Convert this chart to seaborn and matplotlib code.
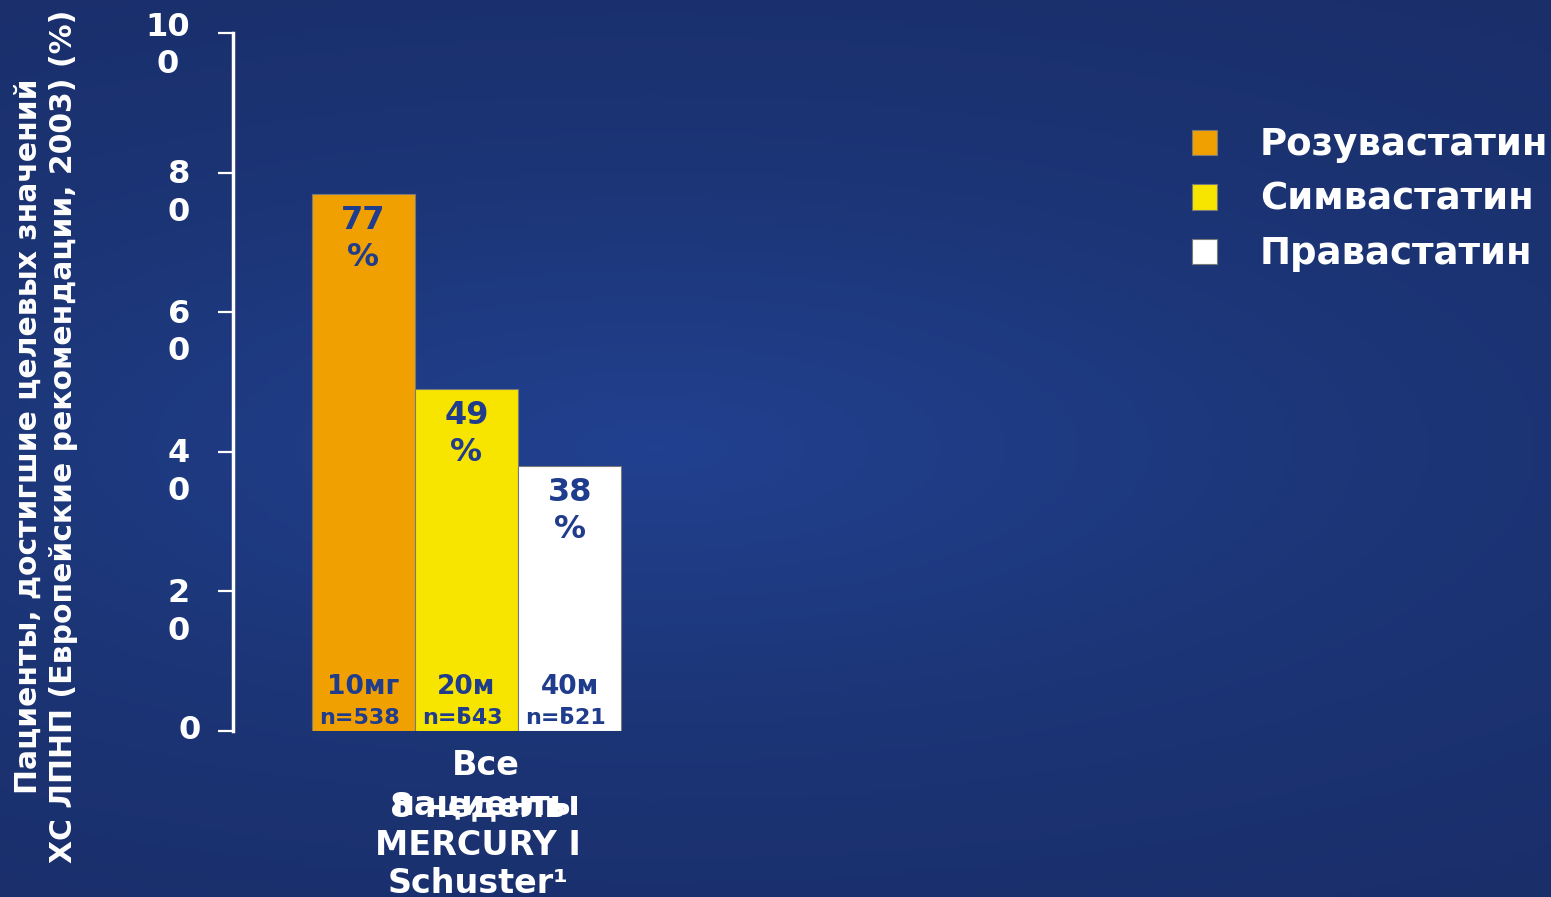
import matplotlib
matplotlib.use("Agg")
import matplotlib.pyplot as plt
from matplotlib.colors import LinearSegmentedColormap
from matplotlib.transforms import ScaledTranslation
import seaborn as sns
import pandas as pd
import numpy as np

# data
group = "Все\nпациенты"
drugs = ["Розувастатин", "Симвастатин", "Правастатин"]
values = [77, 49, 38]
value_labels = ["77\n%", "49\n%", "38\n%"]
dose_labels = ["10мг", "20м", "40м"]
n_labels = ["n=538", "n=543", "n=521"]
n_overlay = ["", "г", "г"]
ytick_values = [0, 20, 40, 60, 80, 100]
ytick_labels = ["0", "2\n0", "4\n0", "6\n0", "8\n0", "10\n0"]
ylabel = "Пациенты, достигшие целевых значений\nХС ЛПНП (Европейские рекомендации, 2003) (%)"
xnote = "8 недель\nMERCURY I\nSchuster¹"

colors = ["#f0a000", "#f7e500", "#ffffff"]
text_blue = "#203c8c"

df = pd.DataFrame({"group": [group] * 3, "drug": drugs, "value": values})

sns.set_theme(style="white")
plt.rcParams["font.family"] = ["DejaVu Sans"]
plt.rcParams["font.weight"] = "bold"

fig = plt.figure(figsize=(15.51, 8.97), dpi=100)

# gradient background
bg = fig.add_axes([0, 0, 1, 1], zorder=-10)
yy, xx = np.mgrid[0:1:200j, 0:1:350j]
dist = np.sqrt(((xx - 0.42) / 1.3) ** 2 + ((yy - 0.5) / 0.8) ** 2)
cmap = LinearSegmentedColormap.from_list("bgblue", ["#21408f", "#1c3576", "#1a2e6a"])
bg.imshow(dist, cmap=cmap, aspect="auto", extent=[0, 1, 0, 1])
bg.axis("off")

ax = fig.add_axes([0.1502, 0.1851, 0.3011, 0.7781])
ax.patch.set_alpha(0)

sns.barplot(data=df, x="group", y="value", hue="drug", hue_order=drugs,
            palette=colors, saturation=1, width=0.8, ax=ax,
            edgecolor="#7a7a7a", linewidth=0.8)

ax.set_xlim(-0.603, 0.603)
ax.set_ylim(0, 100)
ax.set_yticks(ytick_values)
ax.set_yticklabels(ytick_labels, multialignment="center")
ax.tick_params(axis="y", colors="white", labelsize=23, length=11, width=1.6,
               pad=20, left=True)
ticklabs = ax.get_yticklabels()
for k, lab in enumerate(ticklabs):
    lab.set_va("center_baseline")
    lab.set_linespacing(1.28)
    if k == len(ticklabs) - 1:
        shift = ScaledTranslation(0, -6 / 100, fig.dpi_scale_trans)
    elif "\n" in lab.get_text():
        shift = ScaledTranslation(0, -14 / 100, fig.dpi_scale_trans)
    else:
        shift = ScaledTranslation(11 / 100, 4 / 100, fig.dpi_scale_trans)
    lab.set_transform(lab.get_transform() + shift)
ax.set_xticks([])
ax.set_xlabel("")
ax.set_ylabel(ylabel, color="white", fontsize=21.5, fontweight="bold",
              linespacing=1.25)
ax.yaxis.set_label_coords(-0.332, 0.4226)

for s in ["top", "right", "bottom"]:
    ax.spines[s].set_visible(False)
ax.spines["left"].set_color("white")
ax.spines["left"].set_linewidth(2.5)

# bar texts
bars = [p for p in ax.patches if p.get_height() > 0]
bars = sorted(bars, key=lambda p: p.get_x())
for i, p in enumerate(bars):
    cx = p.get_x() + p.get_width() / 2
    ax.annotate(value_labels[i], xy=(cx, values[i]), xytext=(0, -8),
                textcoords="offset points", ha="center", va="top",
                color=text_blue, fontsize=23, fontweight="bold", linespacing=1.25)
    ax.annotate(dose_labels[i], xy=(cx, 0), xytext=(0, 22),
                textcoords="offset points", ha="center", va="bottom",
                color=text_blue, fontsize=19, fontweight="bold")
    nt = ax.annotate(n_labels[i], xy=(cx, 0), xytext=(-3, 2),
                     textcoords="offset points", ha="center", va="bottom",
                     color=text_blue, fontsize=16, fontweight="bold")
    if n_overlay[i]:
        ax.annotate(n_overlay[i], xy=(0.5, 0.1), xycoords=nt, ha="center",
                    va="bottom", color=text_blue, fontsize=18, fontweight="bold")

# category text below the axis
xc = 0.05
ax.annotate(group, xy=(xc, 0), xycoords=ax.get_xaxis_transform(), xytext=(0, -13),
            textcoords="offset points", ha="center", va="top", color="white",
            fontsize=24, fontweight="bold", linespacing=1.24)
ax.annotate(xnote, xy=(xc - 0.02, 0), xycoords=ax.get_xaxis_transform(),
            xytext=(0, -43), textcoords="offset points", ha="center", va="top",
            color="white", fontsize=24, fontweight="bold", linespacing=1.2)

handles, labels = ax.get_legend_handles_labels()
if ax.get_legend() is not None:
    ax.get_legend().remove()
leg = fig.legend(handles, labels, loc="upper left",
                 bbox_to_anchor=(0.7685, 0.859), bbox_transform=fig.transFigure,
                 frameon=False, fontsize=26.7, handlelength=0.68, handleheight=0.68,
                 handletextpad=1.15, labelspacing=0.47, borderpad=0, borderaxespad=0)
for t in leg.get_texts():
    t.set_color("white")
    t.set_fontweight("bold")

fig.savefig("out.png", dpi=100)
